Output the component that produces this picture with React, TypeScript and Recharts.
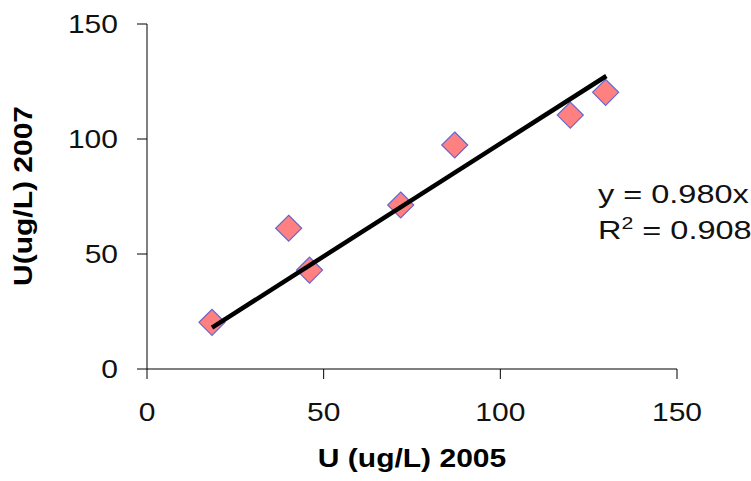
import React from 'react';
import { ScatterChart, Scatter, XAxis, YAxis, Label } from 'recharts';

const uranium2005 = [18.4, 40.1, 46.0, 71.8, 87.1, 119.8, 129.8];
const uranium2007 = [20.3, 61.2, 43.0, 71.3, 97.4, 110.4, 120.3];
const trendX = [18.4, 130];
const trendY = [18.0, 127.4];
const axisTicks = [0, 50, 100, 150];

const points = uranium2005.map((x, i) => ({ x, y: uranium2007[i] }));
const trend = trendX.map((x, i) => ({ x, y: trendY[i] }));

const FONT = '"Liberation Sans", Arial, sans-serif';
const STRETCH = 1.2;

// diamond marker
const Diamond = (props: any) => {
  const { cx, cy } = props;
  const r = 13;
  return (
    <polygon
      points={`${cx},${cy - r} ${cx + r},${cy} ${cx},${cy + r} ${cx - r},${cy}`}
      fill="#FF8080"
      stroke="#6666CC"
      strokeWidth={1.2}
    />
  );
};

const YTick = (props: any) => {
  const { x, y, payload } = props;
  return (
    <g transform={`translate(${x},${y})`}>
      <text transform={`scale(${STRETCH},1)`} textAnchor="end" dy="0.355em" fontSize={25} fontFamily={FONT} fill="#111">
        {payload.value}
      </text>
    </g>
  );
};

const XTick = (props: any) => {
  const { x, y, payload } = props;
  return (
    <g transform={`translate(${x},${y})`}>
      <text transform={`scale(${STRETCH},1)`} textAnchor="middle" dy="0.71em" fontSize={25} fontFamily={FONT} fill="#111">
        {payload.value}
      </text>
    </g>
  );
};

export default function App() {
  return (
    <div style={{ position: 'absolute', left: 0, top: 0, background: '#fff' }}>
      <ScatterChart width={751} height={481} margin={{ top: 24, right: 74, bottom: 0, left: 0 }}>
        <XAxis
          type="number"
          dataKey="x"
          domain={[0, 150]}
          ticks={axisTicks}
          height={112}
          tickSize={10}
          tickMargin={24}
          stroke="#000"
          tick={<XTick />}
          tickLine={{ stroke: '#000' }}
        >
          <Label
            content={() => (
              <g transform="translate(412,467)">
                <text transform={`scale(${STRETCH},1)`} textAnchor="middle" fontSize={25} fontWeight="bold" fontFamily={FONT} fill="#000">
                  U (ug/L) 2005
                </text>
              </g>
            )}
          />
          <Label
            content={() => (
              <g transform="translate(598,0)">
                <text transform={`scale(1.25,1)`} x={0} y={203} fontSize={26} fontFamily={FONT} fill="#111">
                  y = 0.980x
                </text>
                <text transform={`scale(1.25,1)`} x={0} y={239} fontSize={26} fontFamily={FONT} fill="#111">
                  R<tspan fontSize={17} dy={-10}>2</tspan>
                  <tspan dy={10}> = 0.908</tspan>
                </text>
              </g>
            )}
          />
        </XAxis>
        <YAxis
          type="number"
          dataKey="y"
          domain={[0, 150]}
          ticks={axisTicks}
          width={147}
          tickSize={10}
          tickMargin={19}
          stroke="#000"
          tick={<YTick />}
          tickLine={{ stroke: '#000' }}
        >
          <Label
            content={() => (
              <g transform="translate(32,196) rotate(-90)">
                <text transform={`scale(${STRETCH},1)`} textAnchor="middle" fontSize={25} fontWeight="bold" fontFamily={FONT} fill="#000">
                  U(ug/L) 2007
                </text>
              </g>
            )}
          />
        </YAxis>
        <Scatter data={points} shape={<Diamond />} isAnimationActive={false} />
        <Scatter
          data={trend}
          line={{ stroke: '#000', strokeWidth: 4.5 }}
          shape={() => <g />}
          isAnimationActive={false}
        />
      </ScatterChart>
    </div>
  );
}
